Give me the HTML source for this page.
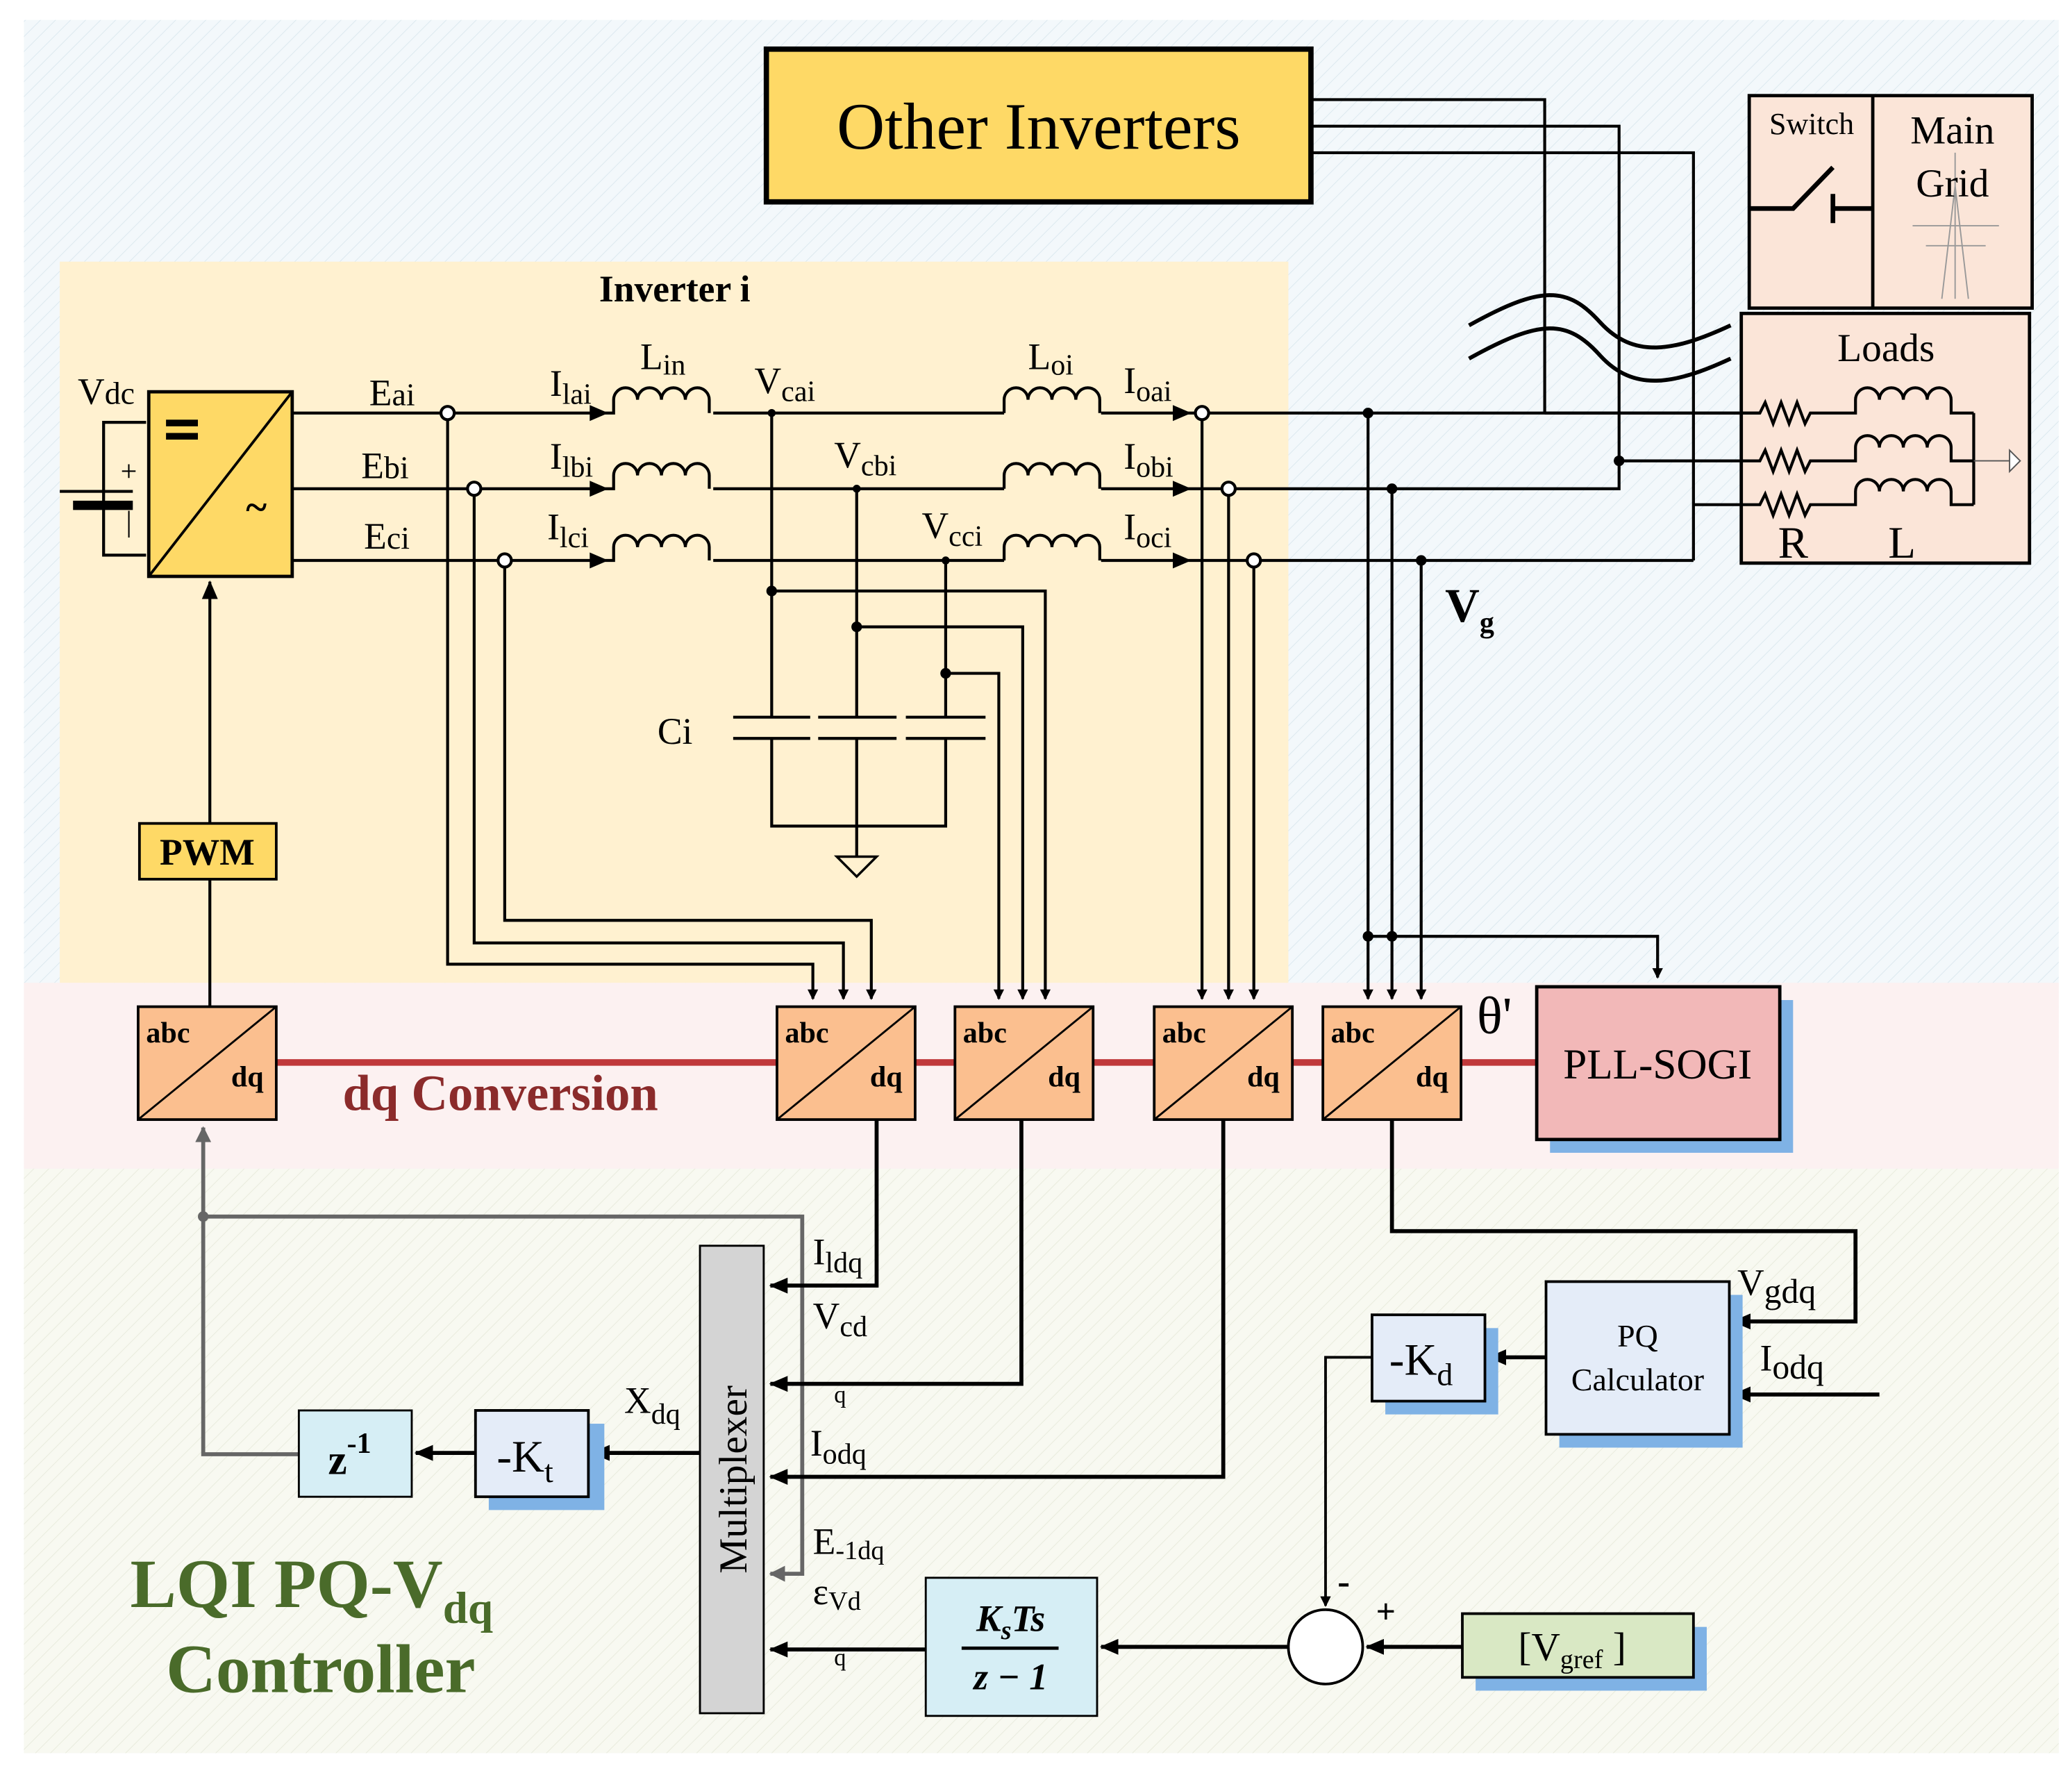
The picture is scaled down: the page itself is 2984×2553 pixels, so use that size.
<!DOCTYPE html>
<html><head><meta charset="utf-8"><style>
html,body{margin:0;padding:0;background:#fff}
svg{display:block}
text{font-family:"Liberation Serif",serif;fill:#000}
</style></head><body>
<svg width="2984" height="2553" viewBox="0 0 1560 1335" preserveAspectRatio="none" xmlns="http://www.w3.org/2000/svg">
<defs>
<marker id="ar" markerWidth="8" markerHeight="8" refX="7" refY="4" orient="auto" markerUnits="userSpaceOnUse"><path d="M0,0 L8,4 L0,8 z" fill="#000"/></marker>
<marker id="arl" markerWidth="14" markerHeight="12" refX="13" refY="6" orient="auto" markerUnits="userSpaceOnUse"><path d="M0,0 L14,6 L0,12 z" fill="#000"/></marker>
<marker id="arg" markerWidth="12" markerHeight="12" refX="11" refY="6" orient="auto" markerUnits="userSpaceOnUse"><path d="M0,0 L12,6 L0,12 z" fill="#666"/></marker>
<pattern id="h1" width="8" height="8" patternUnits="userSpaceOnUse" patternTransform="rotate(45)"><rect width="8" height="8" fill="#f3f8fb"/><line x1="0" y1="0" x2="0" y2="8" stroke="#dbe8ef" stroke-width="1"/></pattern>
<pattern id="h2" width="8" height="8" patternUnits="userSpaceOnUse" patternTransform="rotate(45)"><rect width="8" height="8" fill="#f8f9f1"/><line x1="0" y1="0" x2="0" y2="8" stroke="#e8ebdc" stroke-width="1"/></pattern>
</defs>
<rect x="18" y="15" width="1532" height="1305" fill="url(#h1)"/>
<rect x="18" y="740" width="1532" height="140" fill="#fcf1f1"/>
<rect x="18" y="880" width="1532" height="440" fill="url(#h2)"/>
<rect x="45" y="197" width="925" height="543" fill="#fff1d0"/>

<rect x="577" y="37" width="410" height="115" fill="#fed966" stroke="#000" stroke-width="4"/>
<text x="782" y="112" font-size="50" text-anchor="middle">Other Inverters</text>
<g fill="none" stroke="#000" stroke-width="2.2">
<path d="M988,75 H1163 V311"/>
<path d="M988,95 H1219 V368 H829"/>
<path d="M988,115 H1275 V422"/>
</g>
<rect x="1317" y="72" width="213" height="160" fill="#fbe5d8" stroke="#000" stroke-width="2.5"/>
<line x1="1410" y1="72" x2="1410" y2="232" stroke="#000" stroke-width="2.5"/>
<text x="1364" y="101" font-size="23" text-anchor="middle">Switch</text>
<g stroke="#999" stroke-width="1" fill="none"><path d="M1472,115 V225 M1462,225 L1472,140 L1482,225 M1440,170 H1505 M1450,185 H1495"/></g>
<text x="1470" y="108" font-size="30" text-anchor="middle">Main</text>
<text x="1470" y="148" font-size="30" text-anchor="middle">Grid</text>
<path d="M1317,157 H1350 L1380,126 M1380,146 V168 M1380,157 H1410" fill="none" stroke="#000" stroke-width="3.5"/>
<rect x="1311" y="236" width="217" height="188" fill="#fbe5d8" stroke="#000" stroke-width="2.5"/>
<text x="1420" y="272" font-size="30" text-anchor="middle">Loads</text>
<text x="1350" y="420" font-size="34" text-anchor="middle">R</text>
<text x="1432" y="420" font-size="34" text-anchor="middle">L</text>
<g fill="none" stroke="#000" stroke-width="2.2">
<path d="M1163,311 H1325 l4,-8 l6,16 l6,-16 l6,16 l6,-16 l6,16 l4,-8 H1397 v-10 a9,9 0 0 1 18,0 a9,9 0 0 1 18,0 a9,9 0 0 1 18,0 a9,9 0 0 1 18,0 v10 h17"/>
<path d="M1219,347 H1325 l4,-8 l6,16 l6,-16 l6,16 l6,-16 l6,16 l4,-8 H1397 v-10 a9,9 0 0 1 18,0 a9,9 0 0 1 18,0 a9,9 0 0 1 18,0 a9,9 0 0 1 18,0 v10 h17"/>
<path d="M1275,380 H1325 l4,-8 l6,16 l6,-16 l6,16 l6,-16 l6,16 l4,-8 H1397 v-10 a9,9 0 0 1 18,0 a9,9 0 0 1 18,0 a9,9 0 0 1 18,0 a9,9 0 0 1 18,0 v10 h17"/>
<path d="M1486,311 V380"/>
</g>
<path d="M1486,347 H1513" stroke="#555" stroke-width="1"/><path d="M1513,339 L1521,347 L1513,355 z" fill="#fff" stroke="#555"/>
<circle cx="1219" cy="347" r="4" fill="#000"/>
<g fill="none" stroke="#000" stroke-width="3"><path d="M1106,270 C1160,240 1180,240 1205,268 C1230,295 1260,290 1303,270"/><path d="M1106,245 C1160,215 1180,215 1205,243 C1230,270 1260,265 1303,245"/></g>

<text x="508" y="227" font-size="28" font-weight="bold" text-anchor="middle">Inverter i</text>
<g fill="none" stroke="#000" stroke-width="2.2"><path d="M110,318 H78 V418 H110"/><path d="M45,370 H100"/></g>
<rect x="55" y="377" width="45" height="7" fill="#000"/>
<text x="97" y="362" font-size="22" text-anchor="middle">+</text>
<text x="97" y="400" font-size="22" text-anchor="middle">|</text>
<text x="80" y="304" font-size="28" text-anchor="middle">V<tspan font-size="24">dc</tspan></text>
<rect x="112" y="295" width="108" height="139" fill="#fed966" stroke="#000" stroke-width="2.5"/>
<line x1="112" y1="434" x2="220" y2="295" stroke="#000" stroke-width="2"/>
<rect x="125" y="316" width="24" height="5" fill="#000"/><rect x="125" y="326" width="24" height="5" fill="#000"/>
<text x="193" y="392" font-size="30" font-weight="bold" text-anchor="middle">~</text>

<g fill="none" stroke="#000" stroke-width="2.2">
<path d="M220,311 H455 M537,311 H756 M829,311 H1325"/>
<path d="M220,368 H455 M537,368 H756"/>
<path d="M220,422 H455 M537,422 H756 M829,422 H1275"/>
<path d="M455,311 h7 v-10 a9,9 0 0 1 18,0 a9,9 0 0 1 18,0 a9,9 0 0 1 18,0 a9,9 0 0 1 18,0 v10"/>
<path d="M455,368 h7 v-10 a9,9 0 0 1 18,0 a9,9 0 0 1 18,0 a9,9 0 0 1 18,0 a9,9 0 0 1 18,0 v10"/>
<path d="M455,422 h7 v-10 a9,9 0 0 1 18,0 a9,9 0 0 1 18,0 a9,9 0 0 1 18,0 a9,9 0 0 1 18,0 v10"/>
<path d="M756,311 v-10 a9,9 0 0 1 18,0 a9,9 0 0 1 18,0 a9,9 0 0 1 18,0 a9,9 0 0 1 18,0 v10"/>
<path d="M756,368 v-10 a9,9 0 0 1 18,0 a9,9 0 0 1 18,0 a9,9 0 0 1 18,0 a9,9 0 0 1 18,0 v10"/>
<path d="M756,422 v-10 a9,9 0 0 1 18,0 a9,9 0 0 1 18,0 a9,9 0 0 1 18,0 a9,9 0 0 1 18,0 v10"/>
</g>
<g fill="#000"><path d="M444,305 L458,311 L444,317 z"/><path d="M444,362 L458,368 L444,374 z"/><path d="M444,416 L458,422 L444,428 z"/>
<path d="M883,305 L897,311 L883,317 z"/><path d="M883,362 L897,368 L883,374 z"/><path d="M883,416 L897,422 L883,428 z"/></g>
<g font-size="28">
<text x="278" y="305">E<tspan font-size="24">ai</tspan></text>
<text x="272" y="360">E<tspan font-size="24">bi</tspan></text>
<text x="274" y="413">E<tspan font-size="24">ci</tspan></text>
<text x="414" y="298">I<tspan font-size="22" dy="6">lai</tspan></text>
<text x="414" y="353">I<tspan font-size="22" dy="6">lbi</tspan></text>
<text x="412" y="406">I<tspan font-size="22" dy="6">lci</tspan></text>
<text x="482" y="278">L<tspan font-size="22" dy="4">in</tspan></text>
<text x="774" y="278">L<tspan font-size="22" dy="4">oi</tspan></text>
<text x="568" y="296">V<tspan font-size="22" dy="6">cai</tspan></text>
<text x="628" y="352">V<tspan font-size="22" dy="6">cbi</tspan></text>
<text x="694" y="405">V<tspan font-size="22" dy="6">cci</tspan></text>
<text x="846" y="296">I<tspan font-size="22" dy="6">oai</tspan></text>
<text x="846" y="353">I<tspan font-size="22" dy="6">obi</tspan></text>
<text x="846" y="406">I<tspan font-size="22" dy="6">oci</tspan></text>
<text x="495" y="560">Ci</text>
</g>
<text x="1088" y="468" font-size="36" font-weight="bold">V<tspan font-size="22" dy="8">g</tspan></text>

<g fill="none" stroke="#000" stroke-width="2.2">
<path d="M337,316 V726 H612 V752" marker-end="url(#ar)"/>
<path d="M357,373 V710 H635 V752" marker-end="url(#ar)"/>
<path d="M380,427 V693 H656 V752" marker-end="url(#ar)"/>
<path d="M581,311 V540 M645,368 V540 M712,422 V540"/>
<path d="M581,556 V622 H712 V556 M645,556 V645"/>
<path d="M552,540 H610 M616,540 H675 M682,540 H742"/>
<path d="M552,556 H610 M616,556 H675 M682,556 H742"/>
<path d="M581,445 H787 V752" marker-end="url(#ar)"/>
<path d="M645,472 H770 V752" marker-end="url(#ar)"/>
<path d="M712,507 H752 V752" marker-end="url(#ar)"/>
<path d="M905,316 V752" marker-end="url(#ar)"/>
<path d="M925,373 V752" marker-end="url(#ar)"/>
<path d="M944,427 V752" marker-end="url(#ar)"/>
<path d="M1030,311 V752" marker-end="url(#ar)"/>
<path d="M1048,368 V752" marker-end="url(#ar)"/>
<path d="M1070,422 V752" marker-end="url(#ar)"/>
<path d="M1030,705 H1248 V736" marker-end="url(#ar)"/>
<path d="M158,758 V662"/>
<path d="M158,620 V438" marker-end="url(#arl)"/>
</g>
<path d="M630,645 H660 L645,660 z" fill="none" stroke="#000" stroke-width="1.8"/>
<g fill="#fff" stroke="#000" stroke-width="2.2"><circle cx="337" cy="311" r="5"/><circle cx="357" cy="368" r="5"/><circle cx="380" cy="422" r="5"/><circle cx="905" cy="311" r="5"/><circle cx="925" cy="368" r="5"/><circle cx="944" cy="422" r="5"/></g>
<g fill="#000"><circle cx="581" cy="311" r="3"/><circle cx="645" cy="368" r="3"/><circle cx="712" cy="422" r="3"/><circle cx="581" cy="445" r="4"/><circle cx="645" cy="472" r="4"/><circle cx="712" cy="507" r="4"/><circle cx="1030" cy="311" r="4"/><circle cx="1048" cy="368" r="4"/><circle cx="1070" cy="422" r="4"/><circle cx="1030" cy="705" r="4"/><circle cx="1048" cy="705" r="4"/></g>

<rect x="105" y="620" width="103" height="42" fill="#fed966" stroke="#000" stroke-width="2"/>
<text x="156" y="651" font-size="28" font-weight="bold" text-anchor="middle">PWM</text>

<line x1="208" y1="800" x2="1157" y2="800" stroke="#c0393b" stroke-width="5"/>
<text x="258" y="836" font-size="38" font-weight="bold" style="fill:#8b2b2b">dq Conversion</text>
<g>
<rect x="104" y="758" width="104" height="85" fill="#fbbf8f" stroke="#000" stroke-width="2"/><line x1="104" y1="843" x2="208" y2="758" stroke="#000" stroke-width="1.5"/>
<rect x="585" y="758" width="104" height="85" fill="#fbbf8f" stroke="#000" stroke-width="2"/><line x1="585" y1="843" x2="689" y2="758" stroke="#000" stroke-width="1.5"/>
<rect x="719" y="758" width="104" height="85" fill="#fbbf8f" stroke="#000" stroke-width="2"/><line x1="719" y1="843" x2="823" y2="758" stroke="#000" stroke-width="1.5"/>
<rect x="869" y="758" width="104" height="85" fill="#fbbf8f" stroke="#000" stroke-width="2"/><line x1="869" y1="843" x2="973" y2="758" stroke="#000" stroke-width="1.5"/>
<rect x="996" y="758" width="104" height="85" fill="#fbbf8f" stroke="#000" stroke-width="2"/><line x1="996" y1="843" x2="1100" y2="758" stroke="#000" stroke-width="1.5"/>
</g>
<g font-size="22" font-weight="bold">
<text x="110" y="785">abc</text><text x="174" y="818">dq</text>
<text x="591" y="785">abc</text><text x="655" y="818">dq</text>
<text x="725" y="785">abc</text><text x="789" y="818">dq</text>
<text x="875" y="785">abc</text><text x="939" y="818">dq</text>
<text x="1002" y="785">abc</text><text x="1066" y="818">dq</text>
</g>
<text x="1112" y="778" font-size="40">θ'</text>
<rect x="1167" y="753" width="183" height="115" fill="#7fb2e5"/>
<rect x="1157" y="743" width="183" height="115" fill="#f2b8b8" stroke="#000" stroke-width="2.5"/>
<text x="1248" y="812" font-size="32" text-anchor="middle">PLL-SOGI</text>

<rect x="527" y="938" width="48" height="352" fill="#d4d4d4" stroke="#000" stroke-width="1.5"/>
<text transform="translate(562,1114) rotate(-90)" font-size="30" text-anchor="middle">Multiplexer</text>
<g fill="none" stroke="#666" stroke-width="3">
<path d="M225,1095 H153 V849" marker-end="url(#arg)"/>
<path d="M153,916 H604 V1185 H580" marker-end="url(#arg)"/>
</g>
<circle cx="153" cy="916" r="4" fill="#666"/>
<g fill="none" stroke="#000" stroke-width="3">
<path d="M660,843 V968 H580" marker-end="url(#arl)"/>
<path d="M769,843 V1042 H580" marker-end="url(#arl)"/>
<path d="M921,843 V1112 H580" marker-end="url(#arl)"/>
<path d="M697,1242 H580" marker-end="url(#arl)"/>
<path d="M527,1094 H446" marker-end="url(#arl)"/>
<path d="M358,1094 H313" marker-end="url(#arl)"/>
<path d="M1048,843 V927 H1397 V995 H1305" marker-end="url(#arl)"/>
<path d="M1415,1050 H1305" marker-end="url(#arl)"/>
<path d="M1164,1022 H1121" marker-end="url(#arl)"/>
<path d="M1101,1240 H1029" marker-end="url(#arl)"/>
<path d="M970,1240 H829" marker-end="url(#arl)"/>
</g>
<path d="M1033,1022 H998 V1209" fill="none" stroke="#000" stroke-width="2" marker-end="url(#ar)"/>
<g font-size="28">
<text x="612" y="952">I<tspan font-size="22" dy="6">ldq</tspan></text>
<text x="612" y="1000">V<tspan font-size="22" dy="6">cd</tspan></text>
<text x="628" y="1056" font-size="18">q</text>
<text x="610" y="1096">I<tspan font-size="22" dy="6">odq</tspan></text>
<text x="612" y="1170">E<tspan font-size="20" dy="4">-1dq</tspan></text>
<text x="612" y="1208">ε<tspan font-size="20" dy="4">Vd</tspan></text>
<text x="628" y="1254" font-size="18">q</text>
<text x="470" y="1064">X<tspan font-size="22" dy="8">dq</tspan></text>
<text x="1308" y="975">V<tspan font-size="26" dy="6">gdq</tspan></text>
<text x="1325" y="1032">I<tspan font-size="26" dy="6">odq</tspan></text>
</g>
<rect x="225" y="1062" width="85" height="65" fill="#d6eef5" stroke="#000" stroke-width="1.5"/>
<text x="247" y="1110" font-size="32" font-weight="bold">z<tspan font-size="22" dy="-16">-1</tspan></text>
<rect x="368" y="1072" width="87" height="65" fill="#7fb2e5"/>
<rect x="358" y="1062" width="85" height="65" fill="#e4ecf8" stroke="#000" stroke-width="2"/>
<text x="374" y="1108" font-size="34">-K<tspan font-size="24" dy="8">t</tspan></text>
<rect x="697" y="1188" width="129" height="104" fill="#d6eef5" stroke="#000" stroke-width="1.5"/>
<text x="761" y="1228" font-size="28" font-weight="bold" font-style="italic" text-anchor="middle">K<tspan font-size="20" dy="6">s</tspan><tspan dy="-6">Ts</tspan></text>
<line x1="724" y1="1241" x2="797" y2="1241" stroke="#000" stroke-width="2.5"/>
<text x="761" y="1272" font-size="28" font-weight="bold" font-style="italic" text-anchor="middle">z − 1</text>
<circle cx="998" cy="1240" r="28" fill="#fff" stroke="#000" stroke-width="2"/>
<text x="1007" y="1200" font-size="28" font-weight="bold">-</text>
<text x="1036" y="1222" font-size="26" font-weight="bold">+</text>
<rect x="1111" y="1225" width="174" height="48" fill="#7fb2e5"/>
<rect x="1101" y="1215" width="174" height="48" fill="#d9e8c4" stroke="#000" stroke-width="2"/>
<text x="1143" y="1250" font-size="30">[V<tspan font-size="20" dy="6">gref</tspan><tspan dy="-6"> ]</tspan></text>
<rect x="1174" y="975" width="138" height="115" fill="#7fb2e5"/>
<rect x="1164" y="965" width="138" height="115" fill="#e4ecf8" stroke="#000" stroke-width="2"/>
<text x="1233" y="1014" font-size="24" text-anchor="middle">PQ</text>
<text x="1233" y="1047" font-size="24" text-anchor="middle">Calculator</text>
<rect x="1043" y="1000" width="85" height="65" fill="#7fb2e5"/>
<rect x="1033" y="990" width="85" height="65" fill="#e4ecf8" stroke="#000" stroke-width="2"/>
<text x="1046" y="1035" font-size="34">-K<tspan font-size="24" dy="8">d</tspan></text>
<text x="98" y="1210" font-size="52" font-weight="bold" style="fill:#4a6b2a">LQI  PQ-V<tspan font-size="34" dy="12">dq</tspan></text>
<text x="125" y="1274" font-size="52" font-weight="bold" style="fill:#4a6b2a">Controller</text>
</svg>
</body></html>
